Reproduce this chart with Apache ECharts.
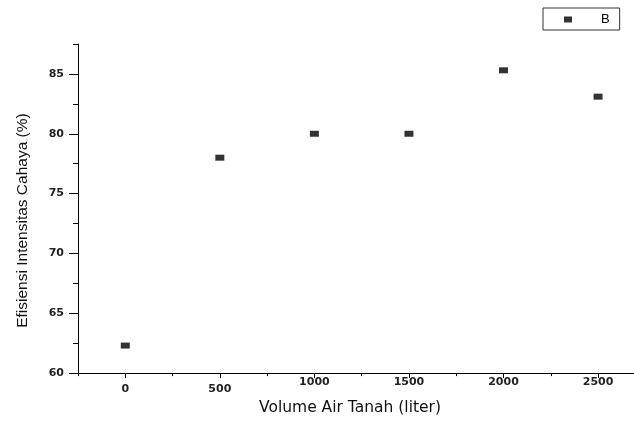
<!DOCTYPE html>
<html>
<head>
<meta charset="utf-8">
<script src="https://cdn.jsdelivr.net/npm/echarts@6/dist/echarts.min.js"></script>
<style>
html,body{margin:0;padding:0;background:#fff;}
#chart{width:634px;height:421px;}
</style>
</head>
<body>
<div id="chart"></div>
<script>
var volumes = [0, 500, 1000, 1500, 2000, 2500];
var efficiency = [62.3, 78.0, 80.0, 80.0, 85.3, 83.1];
var xMajorTicks = [0, 500, 1000, 1500, 2000, 2500];
var xMinorTicks = [-250, 250, 750, 1250, 1750, 2250];
var yMajorTicks = [60, 65, 70, 75, 80, 85];
var yMinorTicks = [62.5, 67.5, 72.5, 77.5, 82.5, 87.5];
var seriesName = 'B';
var xTitle = 'Volume Air Tanah (liter)';
var yTitle = 'Efisiensi Intensitas Cahaya (%)';

var chart = echarts.init(document.getElementById('chart'), null, {renderer: 'canvas'});
var font = 'Liberation Sans, Arial, sans-serif';
var tickFont = 'DejaVu Sans, sans-serif';
var xMin = -250, xMax = 2690, yMin = 60, yMax = 87.5;
function plain(v) { return String(v); }
// in the reference the first two x labels sit a little lower than the rest
function xLabel(v) { return v < 1000 ? '{lo|' + v + '}' : '{hi|' + v + '}'; }

chart.setOption({
  animation: false,
  backgroundColor: '#fff',
  grid: {left: 78, right: 0, top: 44, bottom: 43, containLabel: false},
  legend: {
    data: [{name: seriesName, icon: 'rect'}],
    left: 543, top: 8,
    itemWidth: 8, itemHeight: 6, itemGap: 0,
    padding: [5, 10, 4, 21],
    borderColor: '#333', borderWidth: 1,
    textStyle: {fontFamily: font, fontSize: 13, color: '#000', padding: [0, 0, 0, 24]}
  },
  xAxis: [{
    type: 'value', min: xMin, max: xMax,
    name: xTitle, nameLocation: 'middle', nameGap: 25,
    nameTextStyle: {fontFamily: tickFont, fontSize: 15.5, color: '#111', padding: [0, 12, 0, 0]},
    axisLine: {show: true, onZero: false, lineStyle: {color: '#000', width: 1}},
    axisTick: {show: true, inside: false, length: 5, customValues: xMajorTicks, lineStyle: {color: '#000'}},
    axisLabel: {
      customValues: xMajorTicks, formatter: xLabel, margin: 4,
      fontFamily: tickFont, fontSize: 11, fontWeight: 'bold', color: '#222',
      rich: {
        lo: {fontFamily: tickFont, fontSize: 11, fontWeight: 'bold', color: '#222', padding: [7, 0, 0, 0]},
        hi: {fontFamily: tickFont, fontSize: 11, fontWeight: 'bold', color: '#222', padding: [0, 0, 0, 0]}
      }
    },
    splitLine: {show: false}
  }, {
    type: 'value', min: xMin, max: xMax, position: 'bottom',
    axisLine: {show: false, onZero: false},
    axisTick: {show: true, length: 3, customValues: xMinorTicks, lineStyle: {color: '#000'}},
    axisLabel: {show: false},
    splitLine: {show: false}
  }],
  yAxis: [{
    type: 'value', min: yMin, max: yMax,
    name: yTitle, nameLocation: 'middle', nameGap: 47, nameRotate: 90,
    nameTextStyle: {fontFamily: font, fontSize: 15.5, color: '#111', padding: [0, 24, 0, 0]},
    axisLine: {show: true, onZero: false, lineStyle: {color: '#000', width: 1}},
    axisTick: {show: true, length: 9, customValues: yMajorTicks, lineStyle: {color: '#000'}},
    axisLabel: {customValues: yMajorTicks, formatter: plain, margin: 14, fontFamily: tickFont, fontSize: 11, fontWeight: 'bold', color: '#222'},
    splitLine: {show: false}
  }, {
    type: 'value', min: yMin, max: yMax, position: 'left',
    axisLine: {show: false, onZero: false},
    axisTick: {show: true, length: 5, customValues: yMinorTicks, lineStyle: {color: '#000'}},
    axisLabel: {show: false},
    splitLine: {show: false}
  }],
  series: [{
    name: seriesName,
    type: 'scatter',
    xAxisIndex: 0, yAxisIndex: 0,
    symbol: 'rect', symbolSize: [9, 6],
    itemStyle: {color: '#000'},
    data: volumes.map(function (v, i) { return [v, efficiency[i]]; })
  }]
});
</script>
</body>
</html>
